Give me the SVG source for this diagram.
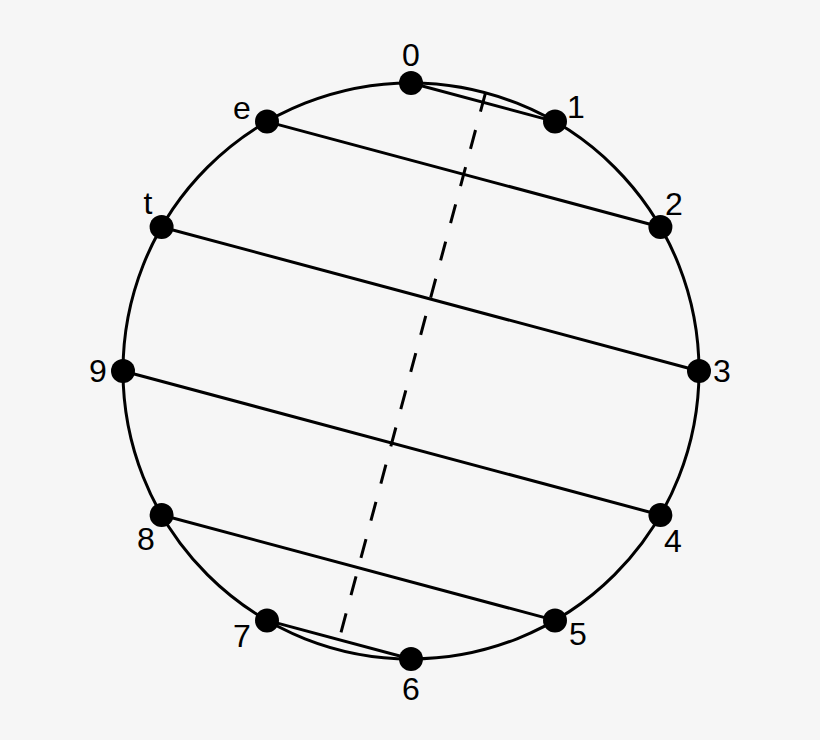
<svg xmlns="http://www.w3.org/2000/svg" width="820" height="740" viewBox="0 0 820 740">
  <style>
    .ring { fill: none; stroke: #000; stroke-width: 3; }
    .chord { fill: none; stroke: #000; stroke-width: 3; }
    .axis { fill: none; stroke: #000; stroke-width: 3; stroke-dasharray: 19.5 19; }
    .dot { fill: #000; }
    .lbl { font-family: "Liberation Sans", Arial, sans-serif; font-size: 32px; fill: #000; text-anchor: middle; }
  </style>
  <rect width="820" height="740" fill="#f6f6f6"/>
  <circle class="ring" cx="411" cy="371" r="288"/>
  <g id="connectors">
    <line class="chord" x1="411" y1="83" x2="555" y2="121.6"/>
    <line class="chord" x1="267" y1="121.6" x2="660.4" y2="227"/>
    <line class="chord" x1="161.6" y1="227" x2="699" y2="371"/>
    <line class="chord" x1="123" y1="371" x2="660.4" y2="515"/>
    <line class="chord" x1="161.6" y1="515" x2="555" y2="620.4"/>
    <line class="chord" x1="267" y1="620.4" x2="411" y2="659"/>
    <line class="axis" x1="485.5" y1="92.8" x2="336.5" y2="649.2"/>
  </g>
  <g id="n0"><circle class="dot" cx="411" cy="83" r="12"/><text class="lbl" x="411" y="66">0</text></g>
  <g id="n1"><circle class="dot" cx="555" cy="121.6" r="12"/><text class="lbl" x="576" y="118">1</text></g>
  <g id="n2"><circle class="dot" cx="660.4" cy="227" r="12"/><text class="lbl" x="674" y="215">2</text></g>
  <g id="n3"><circle class="dot" cx="699" cy="371" r="12"/><text class="lbl" x="722" y="382">3</text></g>
  <g id="n4"><circle class="dot" cx="660.4" cy="515" r="12"/><text class="lbl" x="673" y="552">4</text></g>
  <g id="n5"><circle class="dot" cx="555" cy="620.4" r="12"/><text class="lbl" x="578" y="645">5</text></g>
  <g id="n6"><circle class="dot" cx="411" cy="659" r="12"/><text class="lbl" x="411" y="700">6</text></g>
  <g id="n7"><circle class="dot" cx="267" cy="620.4" r="12"/><text class="lbl" x="242" y="647">7</text></g>
  <g id="n8"><circle class="dot" cx="161.6" cy="515" r="12"/><text class="lbl" x="146" y="550">8</text></g>
  <g id="n9"><circle class="dot" cx="123" cy="371" r="12"/><text class="lbl" x="98" y="382">9</text></g>
  <g id="nt"><circle class="dot" cx="161.6" cy="227" r="12"/><text class="lbl" x="148" y="214">t</text></g>
  <g id="ne"><circle class="dot" cx="267" cy="121.6" r="12"/><text class="lbl" x="242" y="119">e</text></g>
</svg>
